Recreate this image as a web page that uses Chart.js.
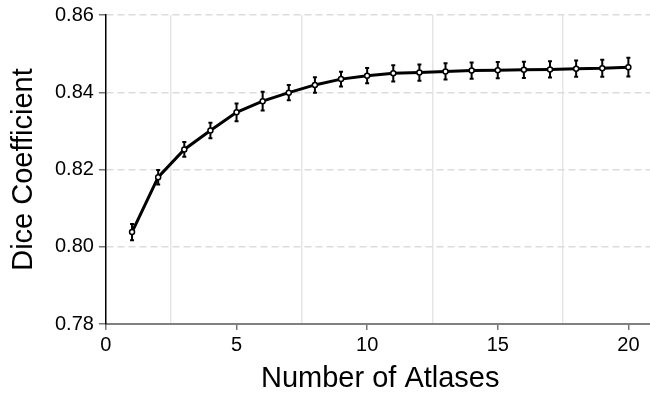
<!DOCTYPE html>
<html>
<head>
<meta charset="utf-8">
<script src="https://cdn.jsdelivr.net/npm/chart.js@4"></script>
<style>
  html, body { margin: 0; padding: 0; background: #fff; overflow: hidden; }
  #wrap { width: 660px; height: 396px; }
</style>
</head>
<body>
<div id="wrap"><canvas id="diceChart" width="660" height="396"></canvas></div>
<script>
// data
const atlasCounts = [1, 2, 3, 4, 5, 6, 7, 8, 9, 10, 11, 12, 13, 14, 15, 16, 17, 18, 19, 20];
const diceMean = [0.8038, 0.8180, 0.8252, 0.8301, 0.8348, 0.8377, 0.8399, 0.8419, 0.8434, 0.8443,
                  0.8449, 0.8451, 0.8454, 0.8456, 0.8457, 0.8458, 0.8459, 0.8461, 0.8462, 0.8465];
const diceErr = [0.0021, 0.0019, 0.0019, 0.0020, 0.0023, 0.0024, 0.0020, 0.0020, 0.0019, 0.0020,
                 0.0021, 0.0021, 0.0021, 0.0021, 0.0021, 0.0021, 0.0021, 0.0021, 0.0022, 0.0024];
const xTicks = [0, 2.5, 5, 7.5, 10, 12.5, 15, 17.5, 20];
const yTicks = [0.78, 0.80, 0.82, 0.84, 0.86];

const FONT = '"Liberation Sans", Arial, Helvetica, sans-serif';

// error bars, drawn under the line and markers
const errorBars = {
    id: 'errorBars',
    beforeDatasetsDraw(chart) {
        const { ctx, scales: { x, y } } = chart;
        ctx.save();
        ctx.strokeStyle = '#000';
        ctx.lineWidth = 2;
        atlasCounts.forEach((n, i) => {
            const px = x.getPixelForValue(n);
            const top = y.getPixelForValue(diceMean[i] + diceErr[i]);
            const bot = y.getPixelForValue(diceMean[i] - diceErr[i]);
            ctx.beginPath();
            ctx.moveTo(px, top);
            ctx.lineTo(px, bot);
            ctx.moveTo(px - 2, top);
            ctx.lineTo(px + 2, top);
            ctx.moveTo(px - 2, bot);
            ctx.lineTo(px + 2, bot);
            ctx.stroke();
        });
        ctx.restore();
    }
};

const isMajor = v => Math.abs(v % 5) < 1e-9;

new Chart(document.getElementById('diceChart').getContext('2d'), {
    type: 'line',
    data: {
        datasets: [{
            data: atlasCounts.map((n, i) => ({ x: n, y: diceMean[i] })),
            borderColor: '#000',
            borderWidth: 3,
            tension: 0,
            pointRadius: 2.5,
            pointBorderWidth: 1.5,
            pointBackgroundColor: '#fff',
            pointBorderColor: '#000',
            fill: false
        }]
    },
    options: {
        responsive: false,
        animation: false,
        layout: { padding: { top: 15, right: 3, left: 9, bottom: 3 } },
        plugins: { legend: { display: false }, tooltip: { enabled: false } },
        scales: {
            x: {
                type: 'linear',
                min: 0,
                max: 21,
                afterBuildTicks: s => { s.ticks = xTicks.map(v => ({ value: v })); },
                grid: {
                    color: c => isMajor(c.tick.value) ? 'rgba(0,0,0,0)' : '#e6e6e6',
                    tickColor: c => isMajor(c.tick.value) ? '#777' : 'rgba(0,0,0,0)',
                    lineWidth: 1.5,
                    tickLength: 6
                },
                border: { display: true, color: '#808080', width: 2 },
                ticks: {
                    autoSkip: false,
                    maxRotation: 0,
                    padding: 3,
                    color: '#000',
                    font: { family: FONT, size: 20 },
                    callback: v => isMajor(v) ? String(v) : ''
                },
                title: {
                    display: true,
                    text: 'Number of Atlases',
                    color: '#000',
                    font: { family: FONT, size: 29, lineHeight: 1 },
                    padding: { top: 4, bottom: 0 }
                }
            },
            y: {
                min: 0.78,
                max: 0.86,
                afterBuildTicks: s => { s.ticks = yTicks.map(v => ({ value: v })); },
                grid: {
                    color: '#dcdcdc',
                    lineWidth: 1.5,
                    tickColor: '#777',
                    tickLength: 7,
                    tickBorderDash: []
                },
                border: { display: true, color: '#000', width: 1.5, dash: [7, 4] },
                ticks: {
                    padding: 5,
                    color: '#000',
                    font: { family: FONT, size: 20, lineHeight: 1 },
                    callback: v => v.toFixed(2)
                },
                title: {
                    display: true,
                    text: 'Dice Coefficient',
                    color: '#000',
                    font: { family: FONT, size: 29, lineHeight: 1 },
                    padding: { top: 0, bottom: 12 }
                }
            }
        }
    },
    plugins: [errorBars]
});
</script>
</body>
</html>
